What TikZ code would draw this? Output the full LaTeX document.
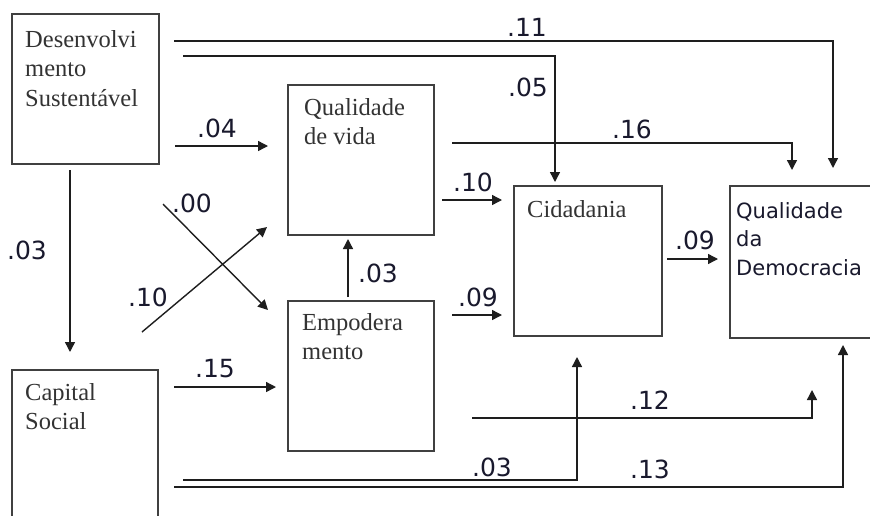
\documentclass[tikz,border=0pt]{standalone}
\usepackage{fontspec}
\setmainfont{Liberation Serif}
\newfontfamily\labfont{DejaVu Sans}
\usetikzlibrary{arrows.meta}
\definecolor{boxline}{RGB}{64,64,64}
\definecolor{arrline}{RGB}{30,30,30}
\definecolor{labcol}{RGB}{25,25,45}
\tikzset{
  box/.style={draw=boxline, line width=1.5pt, minimum width=#1, minimum height=150pt, anchor=north west, inner sep=0pt},
  boxtext/.style={anchor=north west, inner sep=0pt, align=left, font=\fontsize{24.5}{29.5}\selectfont, text=black!80},
  sanstext/.style={anchor=north west, inner sep=0pt, align=left, font=\labfont\fontsize{21}{28.5}\selectfont, text=labcol},
  lab/.style={inner sep=0pt, font=\labfont\fontsize{25}{29}\selectfont, text=labcol},
  arr/.style={draw=arrline, line width=1.4pt, -{Triangle[length=10pt,width=10pt]}},
}
\begin{document}
\begin{tikzpicture}[x=1pt,y=-1pt]
\useasboundingbox[fill=white] (0,0) rectangle (870,515);
% boxes
\node[box=147pt] (ds) at (11,13) {};
\node[box=146pt, minimum height=170pt] (cs) at (11,369) {};
\node[box=146pt] (qv) at (287,84) {};
\node[box=146pt] (emp) at (287,300) {};
\node[box=148pt] (cid) at (513,185) {};
\node[box=160pt, minimum height=152pt] (qd) at (729,185) {};
% box texts
\node[boxtext] (tds) at (25,30) {Desenvolvi\\mento\\Sustentável};
\node[boxtext] (tcs) at (25,383) {Capital\\Social};
\node[boxtext] (tqv) at (304,98) {Qualidade\\de vida};
\node[boxtext] (temp) at (302,313) {Empodera\\mento};
\node[boxtext] (tcid) at (527,200) {Cidadania};
\node[sanstext] (tqd) at (736,202) {Qualidade\\da\\Democracia};
% coordinates
\coordinate (a1) at (174,41);  \coordinate (b1) at (833,168);
\coordinate (a2) at (183,56);  \coordinate (b2) at (555,182);
\coordinate (a3) at (175,146); \coordinate (b3) at (268,146);
\coordinate (a4) at (452,143); \coordinate (b4) at (792,170);
\coordinate (a5) at (442,200); \coordinate (b5) at (502,200);
\coordinate (a6) at (452,315); \coordinate (b6) at (502,315);
\coordinate (a7) at (667,259); \coordinate (b7) at (718,259);
\coordinate (a8) at (70,170);  \coordinate (b8) at (70,352);
\coordinate (a9) at (348,297); \coordinate (b9) at (348,239);
\coordinate (a10) at (163,204); \coordinate (b10) at (268,310);
\coordinate (a11) at (142,332); \coordinate (b11) at (267,227);
\coordinate (a12) at (174,387); \coordinate (b12) at (276,387);
\coordinate (a13) at (472,418); \coordinate (b13) at (812,390);
\coordinate (a14) at (183,480); \coordinate (b14) at (577,357);
\coordinate (a15) at (174,487); \coordinate (b15) at (843,345);
% arrows
\draw[arr] (a1) -| (b1);
\draw[arr] (a2) -| (b2);
\draw[arr] (a3) -- (b3);
\draw[arr] (a4) -| (b4);
\draw[arr] (a5) -- (b5);
\draw[arr] (a6) -- (b6);
\draw[arr] (a7) -- (b7);
\draw[arr] (a8) -- (b8);
\draw[arr] (a9) -- (b9);
\draw[arr] (a10) -- (b10);
\draw[arr] (a11) -- (b11);
\draw[arr] (a12) -- (b12);
\draw[arr] (a13) -| (b13);
\draw[arr] (a14) -| (b14);
\draw[arr] (a15) -| (b15);
% labels
\node[lab] (l1) at (527,27) {.11};
\node[lab] (l2) at (528,87) {.05};
\node[lab] (l3) at (217,128) {.04};
\node[lab] (l4) at (632,129) {.16};
\node[lab] (l5) at (473,182) {.10};
\node[lab] (l6) at (478,297) {.09};
\node[lab] (l7) at (695,240) {.09};
\node[lab] (l8) at (27,250) {.03};
\node[lab] (l9) at (378,273) {.03};
\node[lab] (l10) at (192,203) {.00};
\node[lab] (l11) at (148,297) {.10};
\node[lab] (l12) at (215,369) {.15};
\node[lab] (l13) at (650,400) {.12};
\node[lab] (l14) at (492,467) {.03};
\node[lab] (l15) at (650,469) {.13};
\end{tikzpicture}
\end{document}
